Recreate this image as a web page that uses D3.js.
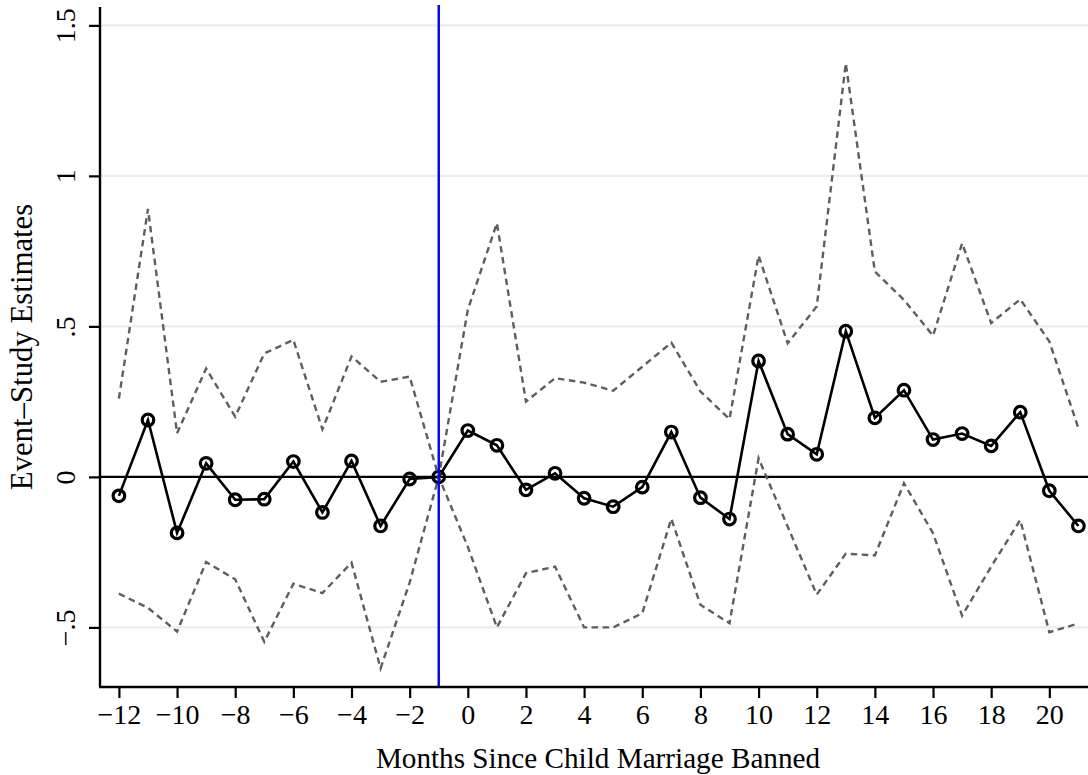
<!DOCTYPE html>
<html>
<head>
<meta charset="utf-8">
<script src="https://cdn.jsdelivr.net/npm/d3@7"></script>
<style>
  html, body { margin: 0; padding: 0; background: #fff; }
  svg { display: block; }
  text { font-family: "Liberation Serif", "Times New Roman", serif; fill: #000; }
</style>
</head>
<body>
<svg id="chart" width="1088" height="775"></svg>
<script>
// Months relative to the ban
const months = [-12,-11,-10,-9,-8,-7,-6,-5,-4,-3,-2,-1,0,1,2,3,4,5,6,7,8,9,10,11,12,13,14,15,16,17,18,19,20,21];

// Point estimates
const estimates = [-0.063,0.189,-0.186,0.045,-0.076,-0.074,0.051,-0.118,0.053,-0.163,-0.007,0,
  0.154,0.105,-0.043,0.012,-0.071,-0.099,-0.034,0.149,-0.069,-0.140,0.385,
  0.142,0.075,0.484,0.196,0.288,0.124,0.144,0.103,0.215,-0.046,-0.163];

// Upper bound of the 95% confidence interval
const upperCI = [0.26,0.89,0.145,0.36,0.20,0.41,0.455,0.158,0.40,0.316,0.333,0,
  0.555,0.843,0.25,0.328,0.313,0.286,0.366,0.446,0.284,0.192,0.735,
  0.444,0.566,1.374,0.682,0.588,0.469,0.776,0.511,0.590,0.450,0.162];

// Lower bound of the 95% confidence interval
const lowerCI = [-0.388,-0.435,-0.514,-0.283,-0.340,-0.548,-0.355,-0.386,-0.285,-0.636,-0.351,0,
  -0.232,-0.500,-0.320,-0.298,-0.500,-0.500,-0.453,-0.139,-0.425,-0.486,0.062,
  -0.165,-0.391,-0.255,-0.261,-0.021,-0.187,-0.461,-0.298,-0.143,-0.516,-0.487];

const xTicks = [-12,-10,-8,-6,-4,-2,0,2,4,6,8,10,12,14,16,18,20];
const yTicks = [-0.5,0,0.5,1,1.5];
const yTickLabels = ["\u2212.5","0",".5","1","1.5"];
const gridValues = [-0.5,0.5,1,1.5];
const banMonth = -1;

const svg = d3.select("#chart");
const plotLeft = 100, plotRight = 1088, plotTop = 7, plotBottom = 687;

const x = d3.scaleLinear().domain([-12.65, 21.33]).range([plotLeft, plotRight]);
const y = d3.scaleLinear().domain([-0.698, 1.561]).range([plotBottom, plotTop]);

// Horizontal grid lines
svg.append("g").selectAll("line").data(gridValues).join("line")
  .attr("x1", plotLeft).attr("x2", plotRight)
  .attr("y1", d => y(d)).attr("y2", d => y(d))
  .attr("stroke", "#e6eff2").attr("stroke-width", 2.2);

// Reference line at zero
svg.append("line")
  .attr("x1", plotLeft).attr("x2", plotRight)
  .attr("y1", y(0)).attr("y2", y(0))
  .attr("stroke", "#000").attr("stroke-width", 2.3);

const line = d3.line().x((d, i) => x(months[i])).y(d => y(d));

// Point estimates: solid line with hollow circles
svg.append("path").datum(estimates)
  .attr("d", line)
  .attr("fill", "none").attr("stroke", "#000").attr("stroke-width", 2.6)
  .attr("stroke-linejoin", "miter");

svg.append("g").selectAll("circle").data(estimates).join("circle")
  .attr("cx", (d, i) => x(months[i])).attr("cy", d => y(d))
  .attr("r", 5.8)
  .attr("fill", "none").attr("stroke", "#000").attr("stroke-width", 3.2);

// Confidence bands
[upperCI, lowerCI].forEach(band => {
  svg.append("path").datum(band)
    .attr("d", line)
    .attr("fill", "none").attr("stroke", "#5e5e5e").attr("stroke-width", 2.4)
    .attr("stroke-dasharray", "6.5,4.5");
});

// Month of the ban
svg.append("line")
  .attr("x1", x(banMonth)).attr("x2", x(banMonth))
  .attr("y1", plotTop - 2).attr("y2", plotBottom)
  .attr("stroke", "#0000ee").attr("stroke-width", 2.4);

// Axes
const xAxis = d3.axisBottom(x).tickValues(xTicks).tickSize(11).tickPadding(6)
  .tickFormat(d => d < 0 ? "\u2212" + Math.abs(d) : String(d));
const gx = svg.append("g").attr("transform", `translate(0,${plotBottom})`).call(xAxis);
gx.select(".domain").attr("d", `M${plotLeft - 1},0H${plotRight}`).attr("stroke", "#000").attr("stroke-width", 2.4);
gx.selectAll(".tick line").attr("stroke", "#000").attr("stroke-width", 2.2);
gx.selectAll(".tick text").attr("font-size", 28).attr("font-family", "Liberation Serif").attr("fill", "#000");

const yAxis = d3.axisLeft(y).tickValues(yTicks).tickSize(11).tickPadding(0)
  .tickFormat((d, i) => yTickLabels[i]);
const gy = svg.append("g").attr("transform", `translate(${plotLeft},0)`).call(yAxis);
gy.select(".domain").attr("d", `M0,${plotTop}V${plotBottom}`).attr("stroke", "#000").attr("stroke-width", 2.4);
gy.selectAll(".tick line").attr("stroke", "#000").attr("stroke-width", 2.2);
gy.selectAll(".tick text")
  .attr("font-size", 28).attr("font-family", "Liberation Serif").attr("fill", "#000")
  .attr("x", null).attr("dy", null)
  .attr("text-anchor", "middle")
  .attr("transform", "translate(-25,0) rotate(-90)");

// Axis titles
svg.append("text")
  .attr("x", (376 + 820) / 2).attr("y", 768)
  .attr("text-anchor", "middle").attr("font-size", 29.2)
  .text("Months Since Child Marriage Banned");

svg.append("text")
  .attr("transform", `translate(32,${(plotTop + plotBottom) / 2}) rotate(-90)`)
  .attr("text-anchor", "middle").attr("font-size", 30.8)
  .text("Event\u2013Study Estimates");
</script>
</body>
</html>
